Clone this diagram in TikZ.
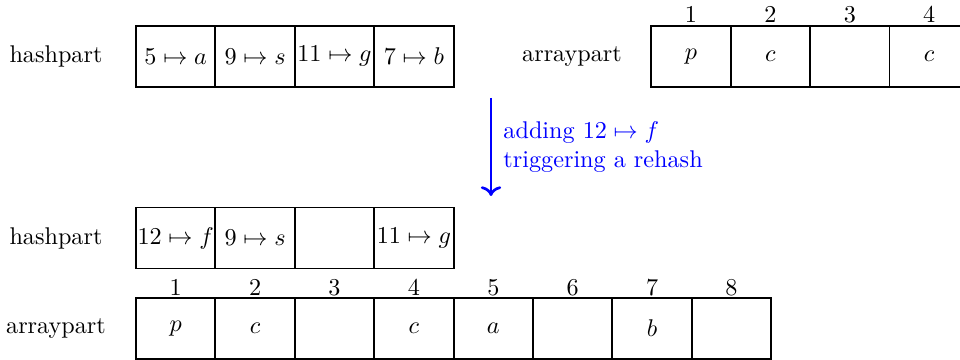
\documentclass[tikz,border=0pt]{standalone}
\usetikzlibrary{arrows.meta}
\begin{document}
\begin{tikzpicture}[x=0.4135pt,y=-0.4135pt,
  cell/.style={draw, line width=0.8pt, minimum width=32.83pt, minimum height=25.2pt, inner sep=0pt, anchor=center},
  idx/.style={anchor=base, inner sep=0pt},
  lbl/.style={inner sep=0pt, anchor=center},
  note/.style={text=blue, anchor=west, align=left, inner sep=0pt}]
\useasboundingbox (0,0) rectangle (960,360);

% top hash part
\node[lbl] (hlab1) at (56,56.5) {hashpart};
\node[cell] (h1) at (175.7,56.5) {$5\mapsto a$};
\node[cell] (h2) at (255.1,56.5) {$9\mapsto s$};
\node[cell] (h3) at (334.5,56.5) {$11\mapsto g$};
\node[cell] (h4) at (413.9,56.5) {$7\mapsto b$};

% top array part
\node[lbl] (alab1) at (572,56.5) {arraypart};
\node[cell] (a1) at (691.0,56.5) {$p$};
\node[cell] (a2) at (770.4,56.5) {$c$};
\node[cell] (a3) at (849.8,56.5) {};
\node[cell] (a4) at (929.2,56.5) {$c$};
\node[idx] (ai1) at (691.0,23) {1};
\node[idx] (ai2) at (770.4,23) {2};
\node[idx] (ai3) at (849.8,23) {3};
\node[idx] (ai4) at (929.2,23) {4};

% arrow and note
\coordinate (as) at (491,98);
\coordinate (ae) at (491,196);
\draw[blue, line width=1.1pt, ->] (as) -- (ae);
\node[note] (txt) at (503,147) {adding $12\mapsto f$\\triggering a rehash};

% bottom hash part
\node[lbl] (hlab2) at (56,238) {hashpart};
\node[cell] (g1) at (175.7,238) {$12\mapsto f$};
\node[cell] (g2) at (255.1,238) {$9\mapsto s$};
\node[cell] (g3) at (334.5,238) {};
\node[cell] (g4) at (413.9,238) {$11\mapsto g$};

% bottom array part
\node[lbl] (alab2) at (56,328.5) {arraypart};
\node[cell] (b1) at (175.7,328.5) {$p$};
\node[cell] (b2) at (255.1,328.5) {$c$};
\node[cell] (b3) at (334.5,328.5) {};
\node[cell] (b4) at (413.9,328.5) {$c$};
\node[cell] (b5) at (493.3,328.5) {$a$};
\node[cell] (b6) at (572.7,328.5) {};
\node[cell] (b7) at (652.1,328.5) {$b$};
\node[cell] (b8) at (731.5,328.5) {};
\node[idx] (bi1) at (175.7,295.5) {1};
\node[idx] (bi2) at (255.1,295.5) {2};
\node[idx] (bi3) at (334.5,295.5) {3};
\node[idx] (bi4) at (413.9,295.5) {4};
\node[idx] (bi5) at (493.3,295.5) {5};
\node[idx] (bi6) at (572.7,295.5) {6};
\node[idx] (bi7) at (652.1,295.5) {7};
\node[idx] (bi8) at (731.5,295.5) {8};
\end{tikzpicture}
\end{document}
